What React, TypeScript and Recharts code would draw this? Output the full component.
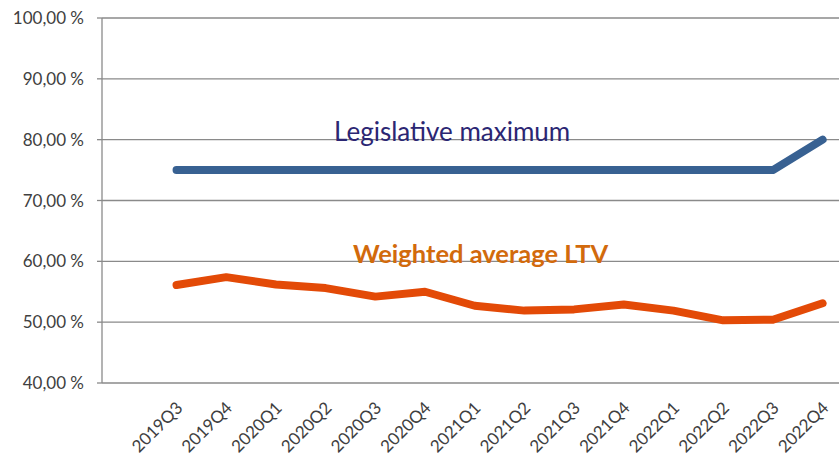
import React from 'react';
import { LineChart, Line, XAxis, YAxis, CartesianGrid } from 'recharts';

const quarters = ['2019Q3', '2019Q4', '2020Q1', '2020Q2', '2020Q3', '2020Q4', '2021Q1', '2021Q2', '2021Q3', '2021Q4', '2022Q1', '2022Q2', '2022Q3', '2022Q4'];
const legislativeMax = [75, 75, 75, 75, 75, 75, 75, 75, 75, 75, 75, 75, 75, 80];
const weightedLtv = [56.1, 57.4, 56.2, 55.6, 54.2, 55.0, 52.7, 51.9, 52.1, 52.9, 51.9, 50.3, 50.4, 53.1];
const yTicks = [40, 50, 60, 70, 80, 90, 100];
const boundaryTicks = [-1.5, -0.5, 0.5, 1.5, 2.5, 3.5, 4.5, 5.5, 6.5, 7.5, 8.5, 9.5, 10.5, 11.5, 12.5, 13.5];
const labelTicks = quarters.map((_, i) => i);

const data = quarters.map((q, i) => ({ idx: i, q, max: legislativeMax[i], ltv: weightedLtv[i] }));

const FONT = 'Lato, "Open Sans", sans-serif';
const GRID = '#8a8a8a';

const QuarterTick = (props: any) => {
  const { x, y, payload } = props;
  return (
    <g transform={`translate(${x},${y + 13})`}>
      <text x={0} y={0} dy={10} textAnchor="end" transform="rotate(-45)" fontFamily={FONT} fontSize={17} fill="#404040">
        {quarters[payload.value]}
      </text>
    </g>
  );
};

const fmt = (v: number) => `${v},00 %`;

export default function App() {
  return (
    <div style={{ position: 'absolute', left: 0, top: 0, width: 839, height: 453, overflow: 'hidden', background: '#fff' }}>
      <LineChart width={839} height={453} data={data} margin={{ top: 18, right: 0, bottom: 0, left: 0 }}>
        <CartesianGrid vertical={false} stroke={GRID} strokeWidth={1.3} xAxisId="labels" />
        <XAxis
          xAxisId="marks"
          type="number"
          domain={[-1.5, 13.33]}
          allowDataOverflow
          ticks={boundaryTicks}
          tickFormatter={() => ''}
          tickSize={5}
          height={0}
          stroke={GRID}
          strokeWidth={1.3}
        />
        <XAxis
          xAxisId="labels"
          dataKey="idx"
          type="number"
          domain={[-1.5, 13.33]}
          allowDataOverflow
          ticks={labelTicks}
          tick={<QuarterTick />}
          tickLine={false}
          axisLine={false}
          tickSize={0}
          tickMargin={6}
          height={70}
          interval={0}
        />
        <YAxis
          type="number"
          domain={[40, 100]}
          ticks={yTicks}
          tickFormatter={fmt}
          width={102}
          tickSize={5}
          tickMargin={13}
          stroke={GRID}
          strokeWidth={1.3}
          tick={{ fill: '#404040', fontSize: 17, fontFamily: FONT }}
          interval={0}
        />
        <Line xAxisId="labels" dataKey="max" stroke="#386192" strokeWidth={8} strokeLinecap="round" strokeLinejoin="round" dot={false} isAnimationActive={false} type="linear" />
        <Line xAxisId="labels" dataKey="ltv" stroke="#E34A07" strokeWidth={8} strokeLinecap="round" strokeLinejoin="round" dot={false} isAnimationActive={false} type="linear" />
      </LineChart>
      <div style={{ position: 'absolute', left: 334, top: 115, fontFamily: FONT, fontSize: 26, lineHeight: 'normal', color: '#2B2673', whiteSpace: 'nowrap' }}>
        Legislative maximum
      </div>
      <div style={{ position: 'absolute', left: 353, top: 238, fontFamily: FONT, fontSize: 25.5, lineHeight: 'normal', fontWeight: 700, color: '#D26A0C', whiteSpace: 'nowrap' }}>
        Weighted average LTV
      </div>
    </div>
  );
}
